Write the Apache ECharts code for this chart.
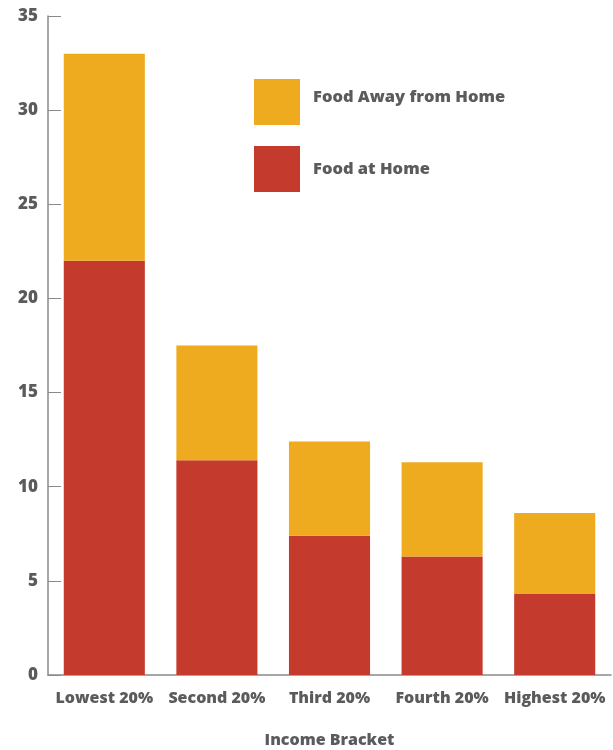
<!DOCTYPE html>
<html><head><meta charset="utf-8">
<script src="https://cdn.jsdelivr.net/npm/echarts@6/dist/echarts.min.js"></script>
<style>html,body{margin:0;padding:0;background:#fff}#c{width:613px;height:750px}</style>
</head><body><div id="c"></div>
<script>
const categories = ["Lowest 20%", "Second 20%", "Third 20%", "Fourth 20%", "Highest 20%"];
const foodAtHome = [22, 11.4, 7.4, 6.3, 4.3];
const foodAway = [11, 6.1, 5.0, 5.0, 4.3];
const seriesNames = ["Food at Home", "Food Away from Home"];
const yTicks = { min: 0, max: 35, interval: 5 };

const txt = '#5a5b5d';
const fontFam = '"Open Sans", "DejaVu Sans", sans-serif';
const lt = { color: txt, fontSize: 16.5, fontWeight: 800, fontFamily: fontFam };
const chart = echarts.init(document.getElementById('c'), null, { renderer: 'canvas' });
chart.setOption({
  animation: false,
  backgroundColor: '#fff',
  grid: { left: 48, right: 2, top: 16, bottom: 75, containLabel: false, outerBoundsMode: 'none' },
  legend: {
    data: [seriesNames[1], seriesNames[0]],
    orient: 'vertical', left: 254, top: 79, padding: 0,
    itemWidth: 46, itemHeight: 46, itemGap: 21,
    icon: 'rect',
    formatter: function (name) { return name === seriesNames[1] ? '{t|' + name + '}' : '{u|' + name + '}'; },
    textStyle: Object.assign({}, lt, {
      rich: {
        t: Object.assign({}, lt, { padding: [0, 0, 10, 8] }),
        u: Object.assign({}, lt, { padding: [0, 0, 0, 8] })
      }
    })
  },
  xAxis: {
    type: 'category', data: categories,
    name: 'Income Bracket', nameLocation: 'middle', nameGap: 57,
    nameTextStyle: { color: txt, fontSize: 16, fontWeight: 800, fontFamily: fontFam },
    axisLine: { lineStyle: { color: '#8a8a8a', width: 1.5 } },
    axisTick: { inside: true, length: 14, lineStyle: { color: '#8a8a8a' } },
    axisLabel: { color: txt, fontSize: 16, fontWeight: 800, fontFamily: fontFam, margin: 15, interval: 0 }
  },
  yAxis: {
    type: 'value', min: yTicks.min, max: yTicks.max, interval: yTicks.interval,
    axisLine: { show: true, lineStyle: { color: '#8a8a8a', width: 1.5 } },
    axisTick: { show: true, inside: true, length: 13, lineStyle: { color: '#8a8a8a' } },
    splitLine: { show: false },
    axisLabel: { color: txt, fontSize: 17, fontWeight: 800, fontFamily: fontFam, margin: 10 }
  },
  series: [
    { name: seriesNames[0], type: 'bar', stack: 'a', data: foodAtHome, barCategoryGap: '28%', itemStyle: { color: '#c43a2d' } },
    { name: seriesNames[1], type: 'bar', stack: 'a', data: foodAway, barCategoryGap: '28%', itemStyle: { color: '#eeab20' } }
  ]
});
</script></body></html>
